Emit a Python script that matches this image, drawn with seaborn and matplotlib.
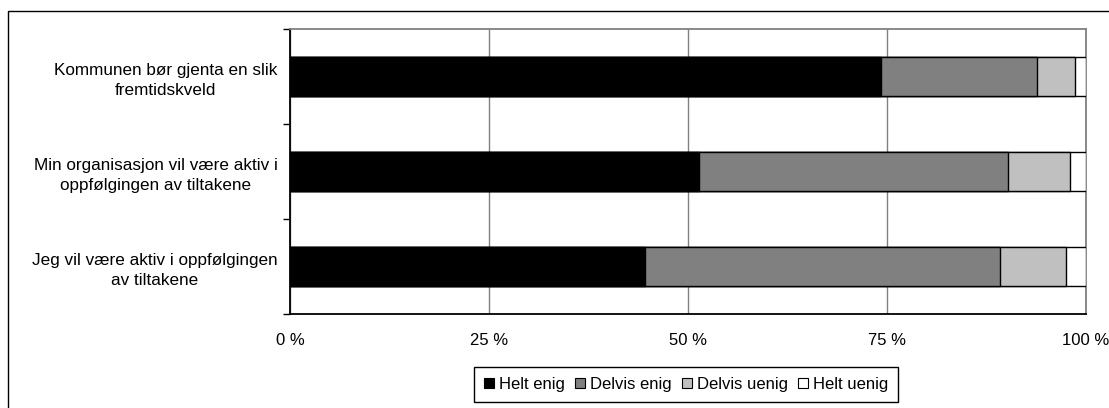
import pandas as pd
import matplotlib.pyplot as plt
import seaborn as sns
from matplotlib.patches import Patch, Rectangle
from matplotlib.ticker import FixedLocator

# data (percent of answers)
questions = ['Kommunen bør gjenta en slik\nfremtidskveld',
             'Min organisasjon vil være aktiv i\noppfølgingen av tiltakene',
             'Jeg vil være aktiv i oppfølgingen\nav tiltakene']
answers = ['Helt enig', 'Delvis enig', 'Delvis uenig', 'Helt uenig']
helt_enig = [74.2, 51.4, 44.6]
delvis_enig = [19.7, 38.8, 44.6]
delvis_uenig = [4.7, 7.8, 8.3]
helt_uenig = [1.4, 2.0, 2.5]
colors = ['#000000', '#808080', '#c0c0c0', '#ffffff']
xticks = [0, 25, 50, 75, 100]

sns.set_style('white')
plt.rcParams['font.family'] = ['Liberation Sans', 'DejaVu Sans']
plt.rcParams['text.color'] = 'black'
plt.rcParams['xtick.color'] = 'black'
plt.rcParams['ytick.color'] = 'black'
plt.rcParams['xtick.labelcolor'] = 'black'
plt.rcParams['ytick.labelcolor'] = 'black'

df = pd.DataFrame({'question': questions, 'Helt enig': helt_enig,
                   'Delvis enig': delvis_enig, 'Delvis uenig': delvis_uenig,
                   'Helt uenig': helt_uenig})
# cumulative ends so the stacks can be drawn as overlapping bars
cum = df[answers].cumsum(axis=1)
cum['question'] = df['question']

W, H = 1109, 408
fig = plt.figure(figsize=(W / 100, H / 100), dpi=100)
ax = fig.add_axes([290 / W, 1 - 314 / H, (1086 - 290) / W, (314 - 29) / H])

# draw longest segment first, shorter ones on top
for name, col in reversed(list(zip(answers, colors))):
    sns.barplot(data=cum, x=name, y='question', orient='h', color=col,
                saturation=1, width=0.42, edgecolor='black', linewidth=1,
                ax=ax, zorder=3)

ax.set_xlim(0, 100)
ax.set_ylim(2.5, -0.5)
ax.set_xlabel('')
ax.set_ylabel('')
ax.set_xticks(xticks)
ax.set_xticklabels([f'{t} %' for t in xticks], fontsize=12)
ax.xaxis.grid(True, color='#808080', linewidth=1)
ax.set_axisbelow(True)

ax.tick_params(axis='x', direction='out', length=5, width=1, color='black', pad=9)
ax.tick_params(axis='y', which='major', length=0, pad=9, labelsize=12.3)
ax.yaxis.set_minor_locator(FixedLocator([-0.5, 0.5, 1.5, 2.5]))
ax.tick_params(axis='y', which='minor', direction='out', length=5, width=1,
               color='black', left=True)
for lab in ax.get_yticklabels():
    lab.set_multialignment('center')
    lab.set_linespacing(1.4)

for side in ['left', 'bottom']:
    ax.spines[side].set_color('#000000')
    ax.spines[side].set_linewidth(1.3)
for side in ['top', 'right']:
    ax.spines[side].set_visible(True)
    ax.spines[side].set_color('#808080')
    ax.spines[side].set_linewidth(1.3)

handles = [Patch(facecolor=c, edgecolor='black', linewidth=0.8) for c in colors]
fig.legend(handles, answers, loc='upper center', ncol=4,
           bbox_to_anchor=(686 / W, 1 - 367 / H), fontsize=12, frameon=True,
           fancybox=False, edgecolor='black', framealpha=1,
           handlelength=0.6, handleheight=0.6, handletextpad=0.3,
           columnspacing=0.6, borderpad=0.6, borderaxespad=0)

# outer frame of the chart area
fig.patches.append(Rectangle((8 / W, -0.1), 1.2, 1.1 - 11 / H,
                             transform=fig.transFigure, fill=False,
                             edgecolor='black', linewidth=1))

fig.savefig('out.png', dpi=100)
